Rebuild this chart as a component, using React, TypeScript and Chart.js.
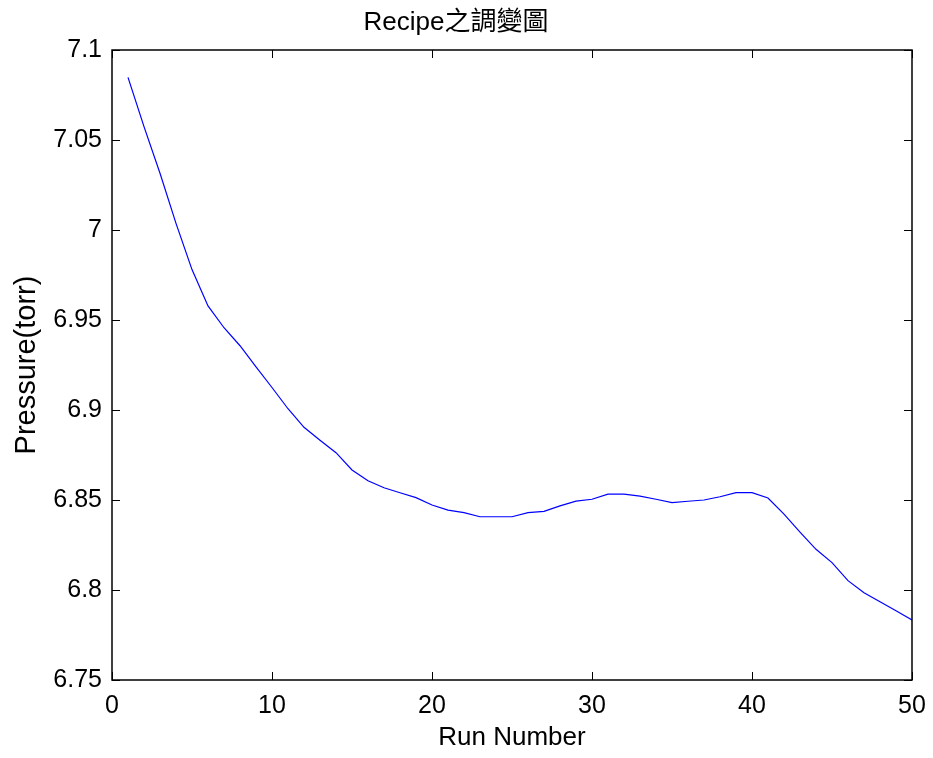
import React, { useEffect, useRef } from "react";
import { Chart, registerables } from "chart.js";

Chart.register(...registerables);

// Run index and measured chamber pressure for each run
const runNumbers: number[] = Array.from({ length: 50 }, (_, i) => i + 1);
const pressureTorr: number[] = [
  7.0848, 7.0574, 7.0315, 7.0037, 6.978, 6.9578, 6.9457, 6.9357, 6.924, 6.9125,
  6.9007, 6.8904, 6.8832, 6.8763, 6.8667, 6.8607, 6.8568, 6.854, 6.8513, 6.8472,
  6.8444, 6.843, 6.8407, 6.8407, 6.8407, 6.843, 6.8437, 6.8467, 6.8494, 6.8504,
  6.8533, 6.8533, 6.8522, 6.8504, 6.8485, 6.8493, 6.85, 6.8518, 6.8541, 6.8541,
  6.8511, 6.8422, 6.8322, 6.8226, 6.8152, 6.8052, 6.7985, 6.7935, 6.7885, 6.7833,
];

const xTickValues: number[] = [0, 10, 20, 30, 40, 50];
const yTickValues: number[] = [6.75, 6.8, 6.85, 6.9, 6.95, 7, 7.05, 7.1];

const chartTitle = "Recipe之調變圖";
const xAxisTitle = "Run Number";
const yAxisTitle = "Pressure(torr)";

const FONT = "'Liberation Sans', Arial, 'Noto Sans CJK TC', sans-serif";

// Box frame with short inward tick marks on all four sides
const frameTicks = {
  id: "frameTicks",
  afterDatasetsDraw(chart: any) {
    const { ctx, chartArea: a, scales } = chart;
    const len = 8;
    ctx.save();
    ctx.strokeStyle = "#000";
    ctx.lineWidth = 1;
    ctx.beginPath();
    scales.x.ticks.forEach((t: any) => {
      const px = Math.round(scales.x.getPixelForValue(t.value)) + 0.5;
      ctx.moveTo(px, a.bottom);
      ctx.lineTo(px, a.bottom - len);
      ctx.moveTo(px, a.top);
      ctx.lineTo(px, a.top + len);
    });
    scales.y.ticks.forEach((t: any) => {
      const py = Math.round(scales.y.getPixelForValue(t.value)) + 0.5;
      ctx.moveTo(a.left, py);
      ctx.lineTo(a.left + len, py);
      ctx.moveTo(a.right, py);
      ctx.lineTo(a.right - len, py);
    });
    ctx.stroke();
    ctx.lineWidth = 1.5;
    ctx.strokeRect(a.left, a.top, a.right - a.left, a.bottom - a.top);
    ctx.restore();
  },
};

export default function App() {
  const canvasRef = useRef<HTMLCanvasElement | null>(null);

  useEffect(() => {
    document.body.style.margin = "0";
    const canvas = canvasRef.current;
    if (!canvas) return;
    const chart = new Chart(canvas, {
      type: "line",
      data: {
        datasets: [
          {
            data: runNumbers.map((x, i) => ({ x, y: pressureTorr[i] })),
            borderColor: "#0000ff",
            borderWidth: 1.2,
            pointRadius: 0,
            fill: false,
            tension: 0,
          },
        ],
      },
      options: {
        animation: false,
        responsive: false,
        devicePixelRatio: 1,
        layout: { padding: { left: 0, right: 21, top: 0, bottom: 0 } },
        plugins: {
          legend: { display: false },
          tooltip: { enabled: false },
          title: {
            display: true,
            text: chartTitle,
            color: "#000",
            font: { family: FONT, size: 26, weight: "normal", lineHeight: 1.2 },
            padding: { top: 7.5, bottom: 11.3 },
          },
        },
        scales: {
          x: {
            type: "linear",
            min: 0,
            max: 50,
            afterBuildTicks: (s: any) => {
              s.ticks = xTickValues.map((v) => ({ value: v }));
            },
            afterFit: (s: any) => {
              s.height = 78;
              s.paddingLeft = 0;
              s.paddingRight = 0;
            },
            grid: { display: false, drawTicks: false },
            border: { display: false },
            ticks: {
              color: "#000",
              padding: 11,
              maxRotation: 0,
              font: { family: FONT, size: 25 },
              callback: (v: any) => String(v),
            },
            title: {
              display: true,
              text: xAxisTitle,
              color: "#000",
              font: { family: FONT, size: 26 },
              padding: { top: 0, bottom: 5 },
            },
          },
          y: {
            type: "linear",
            min: 6.75,
            max: 7.1,
            afterBuildTicks: (s: any) => {
              s.ticks = yTickValues.map((v) => ({ value: v }));
            },
            afterFit: (s: any) => {
              s.width = 112;
              s.paddingTop = 0;
              s.paddingBottom = 0;
            },
            grid: { display: false, drawTicks: false },
            border: { display: false },
            ticks: {
              color: "#000",
              padding: 10,
              font: { family: FONT, size: 25 },
              callback: (v: any) => String(parseFloat(Number(v).toFixed(2))),
            },
            title: {
              display: true,
              text: yAxisTitle,
              color: "#000",
              font: { family: FONT, size: 29 },
              padding: { top: 10, bottom: 0 },
            },
          },
        },
      },
      plugins: [frameTicks],
    });
    return () => chart.destroy();
  }, []);

  return (
    <div style={{ position: "absolute", left: 0, top: 0, width: 933, height: 758, background: "#fff" }}>
      <canvas ref={canvasRef} width={933} height={758} />
    </div>
  );
}
